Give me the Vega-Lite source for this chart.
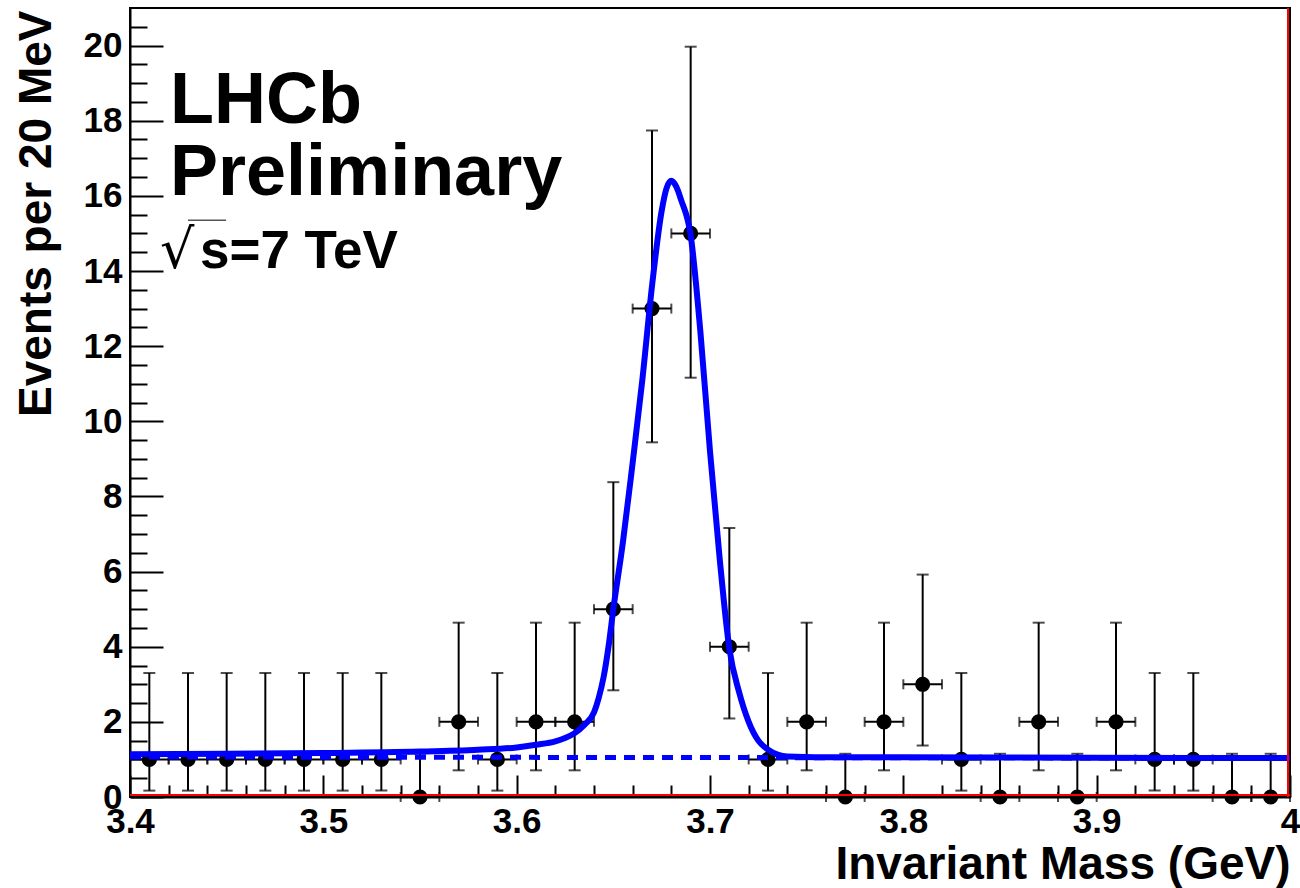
{
  "$schema": "https://vega.github.io/schema/vega-lite/v6.json",
  "width": 1160,
  "height": 789,
  "autosize": {"type": "none"},
  "padding": {"left": 130, "top": 8, "right": 10, "bottom": 91},
  "background": "white",
  "config": {"view": {"stroke": "black", "strokeWidth": 2}, "font": "Liberation Sans"},
  "resolve": {"axis": {"x": "independent", "y": "independent"}},
  "datasets": {
    "points": [
      {"x": 3.41, "n": 1, "lo": 0.17, "hi": 3.30, "xlo": 3.40, "xhi": 3.42},
      {"x": 3.43, "n": 1, "lo": 0.17, "hi": 3.30, "xlo": 3.42, "xhi": 3.44},
      {"x": 3.45, "n": 1, "lo": 0.17, "hi": 3.30, "xlo": 3.44, "xhi": 3.46},
      {"x": 3.47, "n": 1, "lo": 0.17, "hi": 3.30, "xlo": 3.46, "xhi": 3.48},
      {"x": 3.49, "n": 1, "lo": 0.17, "hi": 3.30, "xlo": 3.48, "xhi": 3.50},
      {"x": 3.51, "n": 1, "lo": 0.17, "hi": 3.30, "xlo": 3.50, "xhi": 3.52},
      {"x": 3.53, "n": 1, "lo": 0.17, "hi": 3.30, "xlo": 3.52, "xhi": 3.54},
      {"x": 3.55, "n": 0, "lo": 0, "hi": 1.15, "xlo": 3.54, "xhi": 3.56},
      {"x": 3.57, "n": 2, "lo": 0.71, "hi": 4.64, "xlo": 3.56, "xhi": 3.58},
      {"x": 3.59, "n": 1, "lo": 0.17, "hi": 3.30, "xlo": 3.58, "xhi": 3.60},
      {"x": 3.61, "n": 2, "lo": 0.71, "hi": 4.64, "xlo": 3.60, "xhi": 3.62},
      {"x": 3.63, "n": 2, "lo": 0.71, "hi": 4.64, "xlo": 3.62, "xhi": 3.64},
      {"x": 3.65, "n": 5, "lo": 2.84, "hi": 8.38, "xlo": 3.64, "xhi": 3.66},
      {"x": 3.67, "n": 13, "lo": 9.44, "hi": 17.74, "xlo": 3.66, "xhi": 3.68},
      {"x": 3.69, "n": 15, "lo": 11.16, "hi": 19.97, "xlo": 3.68, "xhi": 3.70},
      {"x": 3.71, "n": 4, "lo": 2.09, "hi": 7.16, "xlo": 3.70, "xhi": 3.72},
      {"x": 3.73, "n": 1, "lo": 0.17, "hi": 3.30, "xlo": 3.72, "xhi": 3.74},
      {"x": 3.75, "n": 2, "lo": 0.71, "hi": 4.64, "xlo": 3.74, "xhi": 3.76},
      {"x": 3.77, "n": 0, "lo": 0, "hi": 1.15, "xlo": 3.76, "xhi": 3.78},
      {"x": 3.79, "n": 2, "lo": 0.71, "hi": 4.64, "xlo": 3.78, "xhi": 3.80},
      {"x": 3.81, "n": 3, "lo": 1.37, "hi": 5.92, "xlo": 3.80, "xhi": 3.82},
      {"x": 3.83, "n": 1, "lo": 0.17, "hi": 3.30, "xlo": 3.82, "xhi": 3.84},
      {"x": 3.85, "n": 0, "lo": 0, "hi": 1.15, "xlo": 3.84, "xhi": 3.86},
      {"x": 3.87, "n": 2, "lo": 0.71, "hi": 4.64, "xlo": 3.86, "xhi": 3.88},
      {"x": 3.89, "n": 0, "lo": 0, "hi": 1.15, "xlo": 3.88, "xhi": 3.90},
      {"x": 3.91, "n": 2, "lo": 0.71, "hi": 4.64, "xlo": 3.90, "xhi": 3.92},
      {"x": 3.93, "n": 1, "lo": 0.17, "hi": 3.30, "xlo": 3.92, "xhi": 3.94},
      {"x": 3.95, "n": 1, "lo": 0.17, "hi": 3.30, "xlo": 3.94, "xhi": 3.96},
      {"x": 3.97, "n": 0, "lo": 0, "hi": 1.15, "xlo": 3.96, "xhi": 3.98},
      {"x": 3.99, "n": 0, "lo": 0, "hi": 1.15, "xlo": 3.98, "xhi": 4.00}
    ],
    "fit": [
      {"x": 3.40, "y": 1.14},
      {"x": 3.45, "y": 1.15},
      {"x": 3.50, "y": 1.17},
      {"x": 3.55, "y": 1.21},
      {"x": 3.58, "y": 1.26},
      {"x": 3.60, "y": 1.32},
      {"x": 3.61, "y": 1.39},
      {"x": 3.62, "y": 1.48},
      {"x": 3.625, "y": 1.57},
      {"x": 3.63, "y": 1.70},
      {"x": 3.635, "y": 1.92},
      {"x": 3.64, "y": 2.25},
      {"x": 3.6425, "y": 2.65},
      {"x": 3.645, "y": 3.2},
      {"x": 3.6475, "y": 4.0},
      {"x": 3.65, "y": 5.0},
      {"x": 3.655, "y": 6.8},
      {"x": 3.66, "y": 8.9},
      {"x": 3.665, "y": 11.1},
      {"x": 3.67, "y": 13.6},
      {"x": 3.675, "y": 15.6},
      {"x": 3.6775, "y": 16.2},
      {"x": 3.68, "y": 16.4},
      {"x": 3.6825, "y": 16.25},
      {"x": 3.685, "y": 15.9},
      {"x": 3.69, "y": 14.95},
      {"x": 3.695, "y": 12.4},
      {"x": 3.70, "y": 9.2},
      {"x": 3.705, "y": 6.35},
      {"x": 3.71, "y": 3.95},
      {"x": 3.715, "y": 2.8},
      {"x": 3.72, "y": 2.0},
      {"x": 3.725, "y": 1.5},
      {"x": 3.73, "y": 1.26},
      {"x": 3.735, "y": 1.13},
      {"x": 3.74, "y": 1.08},
      {"x": 3.76, "y": 1.06},
      {"x": 3.80, "y": 1.055},
      {"x": 3.90, "y": 1.045},
      {"x": 4.00, "y": 1.035}
    ],
    "bg": [
      {"x": 3.40, "y": 1.065},
      {"x": 4.00, "y": 1.035}
    ]
  },
  "layer": [
    {
      "data": {"name": "points"},
      "mark": {"type": "rule", "color": "black", "strokeWidth": 2},
      "encoding": {
        "x": {
          "field": "x", "type": "quantitative",
          "scale": {"domain": [3.4, 4.0], "nice": false, "zero": false},
          "axis": {
            "orient": "bottom",
            "title": "Invariant Mass (GeV)",
            "values": [3.4, 3.5, 3.6, 3.7, 3.8, 3.9, 4.0],
            "format": ".1~f",
            "tickSize": -22,
            "tickColor": "black", "tickWidth": 2,
            "domainColor": "black", "domainWidth": 2,
            "labelFont": "Liberation Sans", "labelFontWeight": "bold", "labelFontSize": 35, "labelColor": "black",
            "labelPadding": 29, "labelFlush": false, "labelOverlap": false,
            "grid": false,
            "titleFont": "Liberation Sans", "titleFontSize": 46, "titleFontWeight": "bold", "titleColor": "black",
            "titleX": 1160, "titleY": 81, "titleAlign": "right", "titleBaseline": "alphabetic", "titleAnchor": null
          }
        },
        "y": {
          "field": "lo", "type": "quantitative",
          "scale": {"domain": [0, 21], "nice": false, "zero": false},
          "axis": {
            "orient": "left",
            "title": "Events per 20 MeV",
            "values": [0, 2, 4, 6, 8, 10, 12, 14, 16, 18, 20],
            "format": "d",
            "tickSize": -33,
            "tickColor": "black", "tickWidth": 2,
            "domainColor": "black", "domainWidth": 2,
            "labelFont": "Liberation Sans", "labelFontWeight": "bold", "labelFontSize": 35, "labelColor": "black",
            "labelPadding": 41, "labelFlush": false, "labelOverlap": false,
            "grid": false,
            "titleFont": "Liberation Sans", "titleFontSize": 46, "titleFontWeight": "bold", "titleColor": "black",
            "titleAngle": -90, "titleX": -80, "titleY": 2, "titleAlign": "right", "titleBaseline": "alphabetic", "titleAnchor": null
          }
        },
        "y2": {"field": "hi"}
      }
    },
    {
      "data": {"name": "points"},
      "mark": {"type": "tick", "color": "black", "orient": "horizontal", "size": 12, "thickness": 2},
      "encoding": {
        "x": {
          "field": "x", "type": "quantitative",
          "axis": {
            "orient": "bottom", "title": null, "labels": false, "domain": false, "grid": false,
            "values": [3.42, 3.44, 3.46, 3.48, 3.52, 3.54, 3.56, 3.58, 3.62, 3.64, 3.66, 3.68, 3.72, 3.74, 3.76, 3.78, 3.82, 3.84, 3.86, 3.88, 3.92, 3.94, 3.96, 3.98],
            "tickSize": -12, "tickColor": "black", "tickWidth": 2
          }
        },
        "y": {
          "field": "hi", "type": "quantitative",
          "axis": {
            "orient": "left", "title": null, "labels": false, "domain": false, "grid": false,
            "values": [0.5, 1, 1.5, 2.5, 3, 3.5, 4.5, 5, 5.5, 6.5, 7, 7.5, 8.5, 9, 9.5, 10.5, 11, 11.5, 12.5, 13, 13.5, 14.5, 15, 15.5, 16.5, 17, 17.5, 18.5, 19, 19.5, 20.5],
            "tickSize": -17, "tickColor": "black", "tickWidth": 2
          }
        }
      }
    },
    {
      "data": {"name": "points"},
      "mark": {"type": "tick", "color": "black", "orient": "horizontal", "size": 12, "thickness": 2},
      "encoding": {
        "x": {"field": "x", "type": "quantitative", "axis": null},
        "y": {"field": "lo", "type": "quantitative", "axis": null}
      }
    },
    {
      "data": {"name": "points"},
      "mark": {"type": "rule", "color": "black", "strokeWidth": 2},
      "encoding": {
        "x": {"field": "xlo", "type": "quantitative", "axis": null},
        "x2": {"field": "xhi"},
        "y": {"field": "n", "type": "quantitative", "axis": null}
      }
    },
    {
      "data": {"name": "points"},
      "mark": {"type": "tick", "color": "black", "orient": "vertical", "size": 10, "thickness": 2},
      "encoding": {
        "x": {"field": "xlo", "type": "quantitative", "axis": null},
        "y": {"field": "n", "type": "quantitative", "axis": null}
      }
    },
    {
      "data": {"name": "points"},
      "mark": {"type": "tick", "color": "black", "orient": "vertical", "size": 10, "thickness": 2},
      "encoding": {
        "x": {"field": "xhi", "type": "quantitative", "axis": null},
        "y": {"field": "n", "type": "quantitative", "axis": null}
      }
    },
    {
      "data": {"name": "points"},
      "mark": {"type": "point", "filled": true, "color": "black", "size": 230, "opacity": 1},
      "encoding": {
        "x": {"field": "x", "type": "quantitative", "axis": null},
        "y": {"field": "n", "type": "quantitative", "axis": null}
      }
    },
    {
      "data": {"name": "bg"},
      "mark": {"type": "line", "color": "#0000ff", "strokeWidth": 5, "strokeDash": [11, 8]},
      "encoding": {
        "x": {"field": "x", "type": "quantitative", "axis": null},
        "y": {"field": "y", "type": "quantitative", "axis": null}
      }
    },
    {
      "data": {"name": "fit"},
      "mark": {"type": "line", "color": "#0000ff", "strokeWidth": 6, "interpolate": "monotone"},
      "encoding": {
        "x": {"field": "x", "type": "quantitative", "axis": null},
        "y": {"field": "y", "type": "quantitative", "axis": null}
      }
    },
    {
      "data": {"values": [{"v": 0}]},
      "mark": {"type": "rule", "color": "#ff0000", "strokeWidth": 2, "yOffset": -2},
      "encoding": {"y": {"field": "v", "type": "quantitative", "axis": null}}
    },
    {
      "data": {"values": [{"v": 4.0}]},
      "mark": {"type": "rule", "color": "#ff0000", "strokeWidth": 2, "xOffset": -2},
      "encoding": {"x": {"field": "v", "type": "quantitative", "axis": null}}
    },
    {
      "data": {"values": [{"x": 3.4207, "y": 17.95, "label": "LHCb"}, {"x": 3.4207, "y": 16.01, "label": "Preliminary"}]},
      "mark": {"type": "text", "align": "left", "baseline": "alphabetic", "font": "Liberation Sans", "fontWeight": "bold", "fontSize": 72, "color": "black"},
      "encoding": {
        "x": {"field": "x", "type": "quantitative", "axis": null},
        "y": {"field": "y", "type": "quantitative", "axis": null},
        "text": {"field": "label"}
      }
    },
    {
      "data": {"values": [{"x": 3.4155, "y": 14.07, "label": "√"}]},
      "mark": {"type": "text", "align": "left", "baseline": "alphabetic", "font": "DejaVu Sans", "fontWeight": "normal", "fontSize": 54, "color": "black"},
      "encoding": {
        "x": {"field": "x", "type": "quantitative", "axis": null},
        "y": {"field": "y", "type": "quantitative", "axis": null},
        "text": {"field": "label"}
      }
    },
    {
      "data": {"values": [{"x": 3.4362, "y": 14.07, "label": "s=7 TeV"}]},
      "mark": {"type": "text", "align": "left", "baseline": "alphabetic", "font": "Liberation Sans", "fontWeight": "bold", "fontSize": 53, "color": "black"},
      "encoding": {
        "x": {"field": "x", "type": "quantitative", "axis": null},
        "y": {"field": "y", "type": "quantitative", "axis": null},
        "text": {"field": "label"}
      }
    },
    {
      "data": {"values": [{"x": 3.4300, "x2": 3.4497, "y": 15.35}]},
      "mark": {"type": "rule", "color": "#555555", "strokeWidth": 1.5},
      "encoding": {
        "x": {"field": "x", "type": "quantitative", "axis": null},
        "x2": {"field": "x2"},
        "y": {"field": "y", "type": "quantitative", "axis": null}
      }
    }
  ]
}
